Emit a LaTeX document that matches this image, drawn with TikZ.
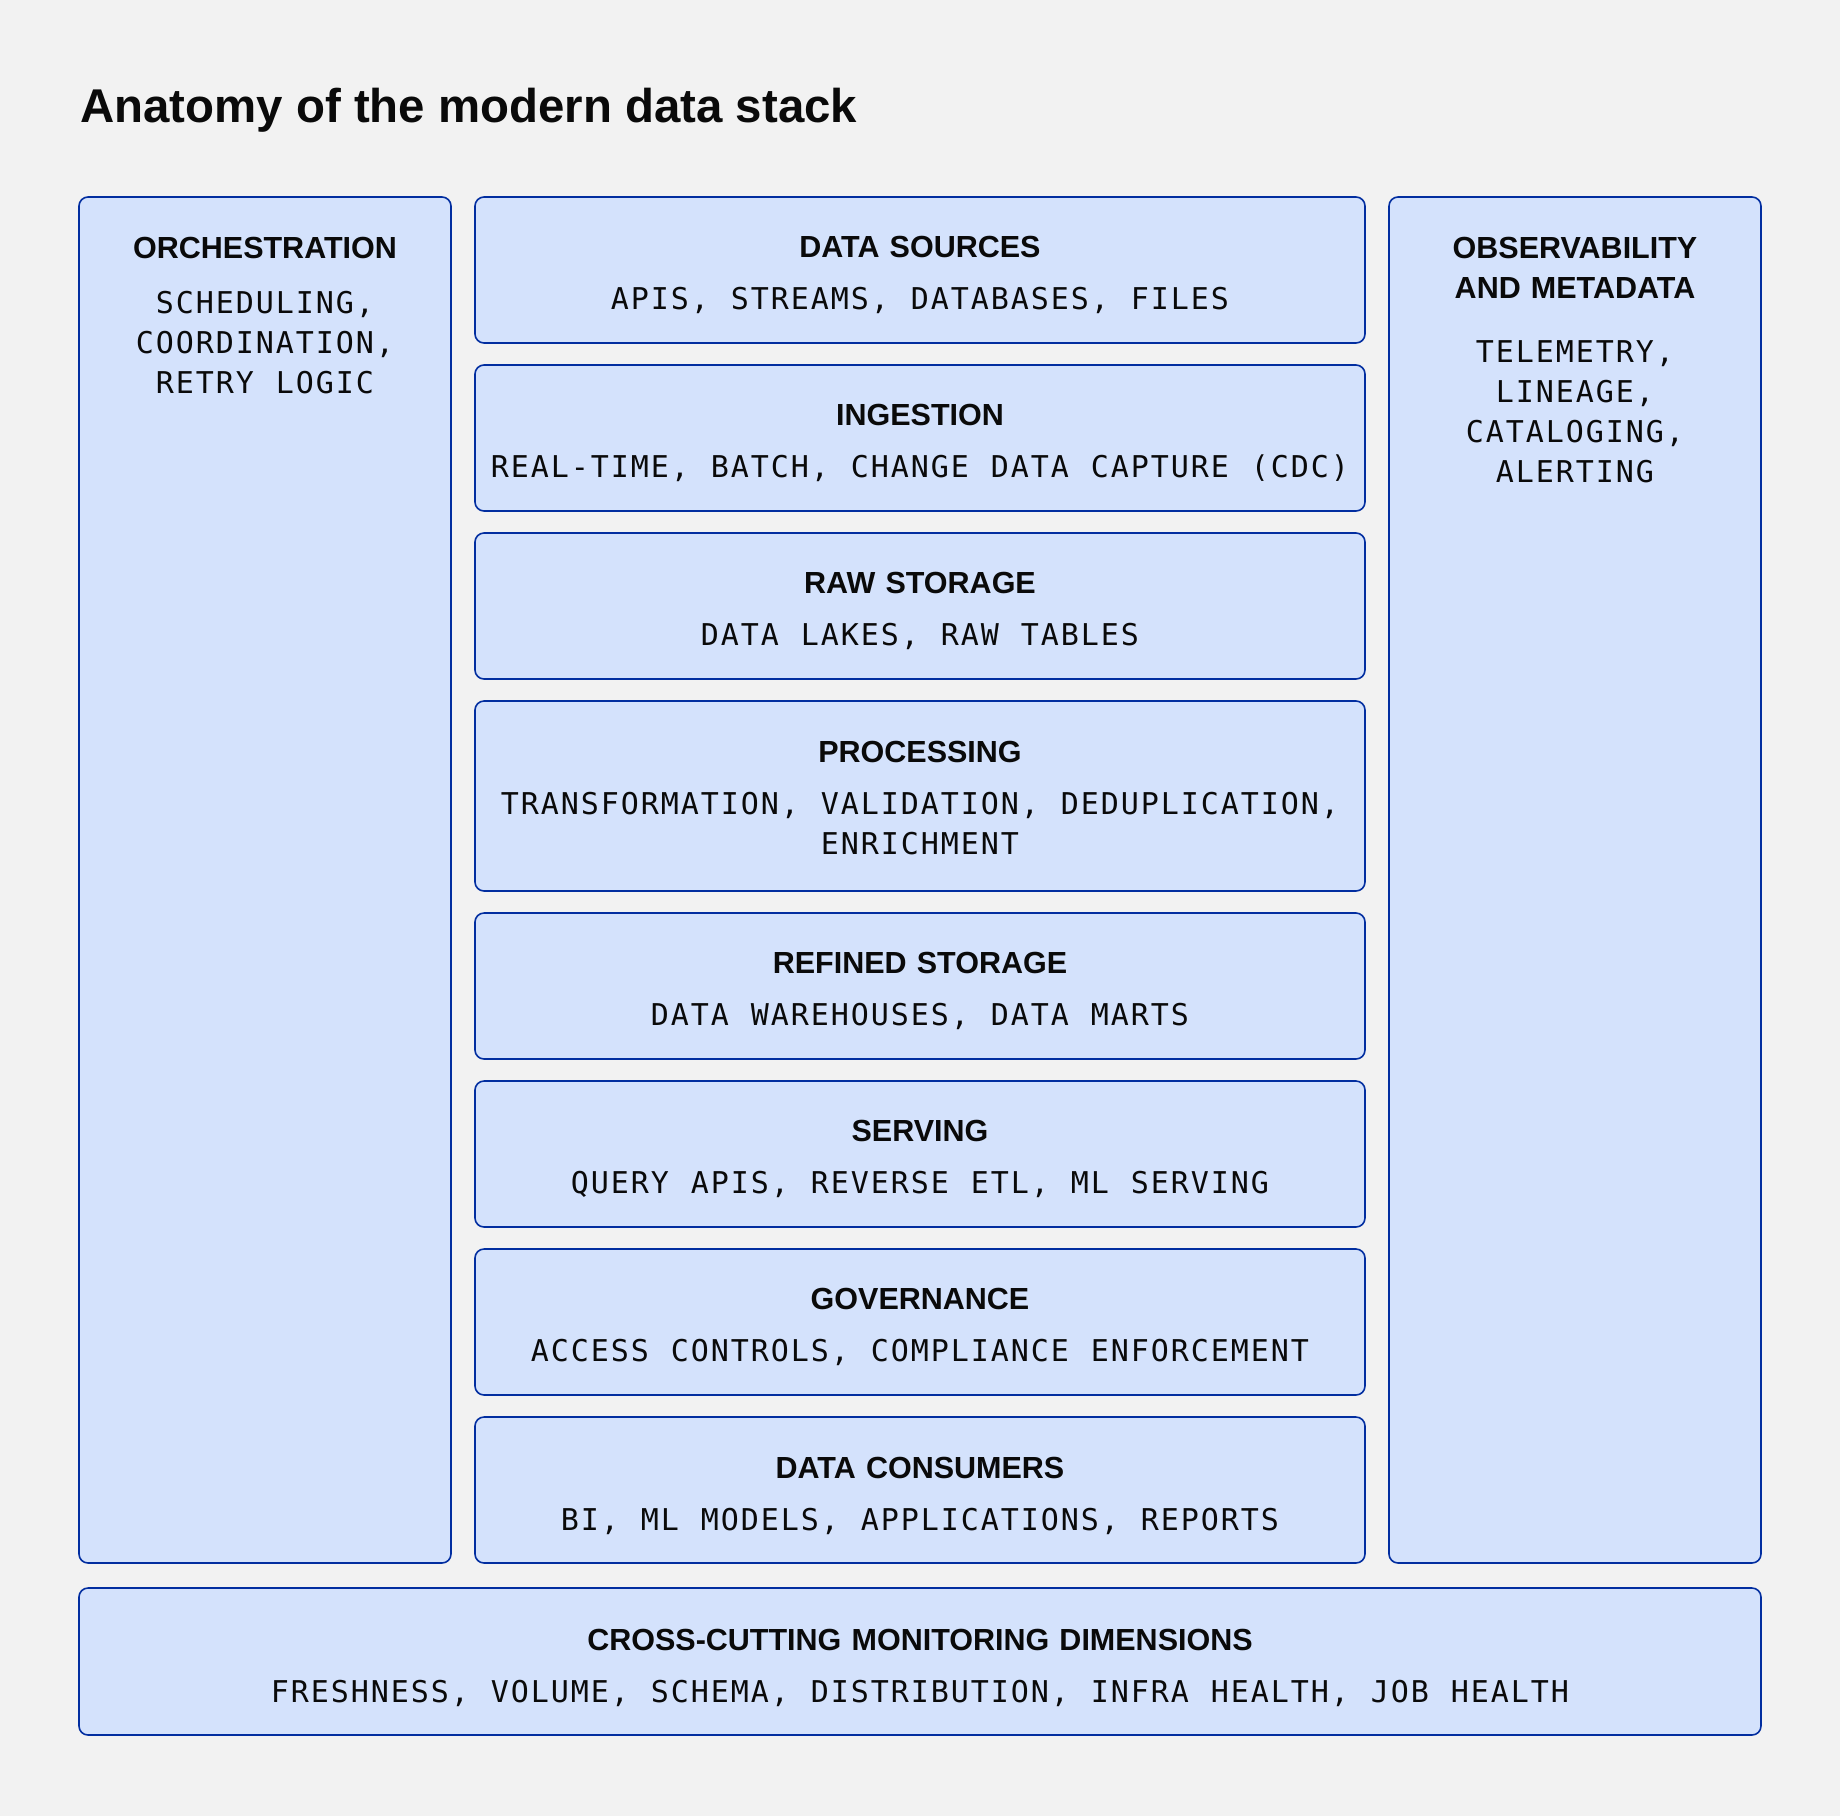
\documentclass[tikz,border=0pt]{standalone}
\usepackage{fontspec}
\setmainfont{Liberation Sans}
\newfontfamily\monofont{DejaVu Sans Mono}
\ExplSyntaxOn
\NewDocumentCommand\cells{m}{\mode_leave_vertical: \str_map_inline:nn {#1} {\hbox_to_wd:nn {20pt} {\hss ##1 \hss}}}
\ExplSyntaxOff
\usetikzlibrary{positioning}
\definecolor{pagebg}{RGB}{242,242,242}
\definecolor{layerfill}{RGB}{212,226,252}
\definecolor{layerline}{RGB}{2,46,160}
\definecolor{ink}{RGB}{10,10,10}

\begin{document}
\begin{tikzpicture}[x=1pt, y=1pt,
		title/.style={font=\fontsize{47.4}{52}\selectfont\bfseries, text=ink, anchor=base west, inner sep=0pt},
		layer/.style={draw=layerline, fill=layerfill, line width=1.6pt, rounded corners=9pt, outer sep=0pt, inner sep=0pt, anchor=north west, minimum width=890pt, minimum height=146pt},
		head/.style={font=\fontsize{30.5}{40}\selectfont\bfseries, text=ink, anchor=base, inner sep=0pt, align=center, text width=360pt},
		items/.style={font=\monofont\fontsize{30}{40}\selectfont, text=ink, anchor=base, inner sep=0pt, align=center, text width=880pt}]
	\fill[pagebg] (0,0) rectangle (1840,-1816);
	\node[title] (title) at (80,-122) {Anatomy of the modern data stack};

	\node[layer, minimum width=372pt, minimum height=1366pt] (orch) at (79,-197) {};
	\node[layer] (src) at (475,-197) {};
	\node[layer, below=22pt of src] (ing) {};
	\node[layer, below=22pt of ing] (raw) {};
	\node[layer, below=22pt of raw, minimum height=190pt] (proc) {};
	\node[layer, below=22pt of proc] (ref) {};
	\node[layer, below=22pt of ref] (srv) {};
	\node[layer, below=22pt of srv] (gov) {};
	\node[layer, below=22pt of gov] (cons) {};
	\node[layer, minimum width=372pt, minimum height=1366pt] (obs) at (1389,-197) {};
	\node[layer, minimum width=1682pt, minimum height=147pt] (mon) at (79,-1588) {};

	\node[head] (orchH) at ([yshift=-61.5pt]orch.north) {ORCHESTRATION};
	\node[items, text width=360pt] (orchT) at ([yshift=-116.5pt]orch.north) {\cells{SCHEDULING,}\\\cells{COORDINATION,}\\\cells{RETRY LOGIC}};

	\node[head] (srcH) at ([yshift=-60pt]src.north) {DATA SOURCES};
	\node[items] (srcT) at ([yshift=-112pt]src.north) {\cells{APIS, STREAMS, DATABASES, FILES}};
	\node[head] (ingH) at ([yshift=-60pt]ing.north) {INGESTION};
	\node[items] (ingT) at ([yshift=-112pt]ing.north) {\cells{REAL-TIME, BATCH, CHANGE DATA CAPTURE (CDC)}};
	\node[head] (rawH) at ([yshift=-60pt]raw.north) {RAW STORAGE};
	\node[items] (rawT) at ([yshift=-112pt]raw.north) {\cells{DATA LAKES, RAW TABLES}};
	\node[head] (procH) at ([yshift=-61pt]proc.north) {PROCESSING};
	\node[items] (procT) at ([yshift=-113pt]proc.north) {\cells{TRANSFORMATION, VALIDATION, DEDUPLICATION,}\\\cells{ENRICHMENT}};
	\node[head] (refH) at ([yshift=-60pt]ref.north) {REFINED STORAGE};
	\node[items] (refT) at ([yshift=-112pt]ref.north) {\cells{DATA WAREHOUSES, DATA MARTS}};
	\node[head] (srvH) at ([yshift=-60pt]srv.north) {SERVING};
	\node[items] (srvT) at ([yshift=-112pt]srv.north) {\cells{QUERY APIS, REVERSE ETL, ML SERVING}};
	\node[head] (govH) at ([yshift=-60pt]gov.north) {GOVERNANCE};
	\node[items] (govT) at ([yshift=-112pt]gov.north) {\cells{ACCESS CONTROLS, COMPLIANCE ENFORCEMENT}};
	\node[head] (consH) at ([yshift=-61pt]cons.north) {DATA CONSUMERS};
	\node[items] (consT) at ([yshift=-113pt]cons.north) {\cells{BI, ML MODELS, APPLICATIONS, REPORTS}};

	\node[head] (obsH) at ([yshift=-61.5pt]obs.north) {OBSERVABILITY\\AND METADATA};
	\node[items, text width=360pt] (obsT) at ([yshift=-165pt]obs.north) {\cells{TELEMETRY,}\\\cells{LINEAGE,}\\\cells{CATALOGING,}\\\cells{ALERTING}};

	\node[head, text width=1400pt] (monH) at ([yshift=-62pt]mon.north) {CROSS-CUTTING MONITORING DIMENSIONS};
	\node[items, text width=1400pt] (monT) at ([yshift=-114pt]mon.north) {\cells{FRESHNESS, VOLUME, SCHEMA, DISTRIBUTION, INFRA HEALTH, JOB HEALTH}};
\end{tikzpicture}
\end{document}
